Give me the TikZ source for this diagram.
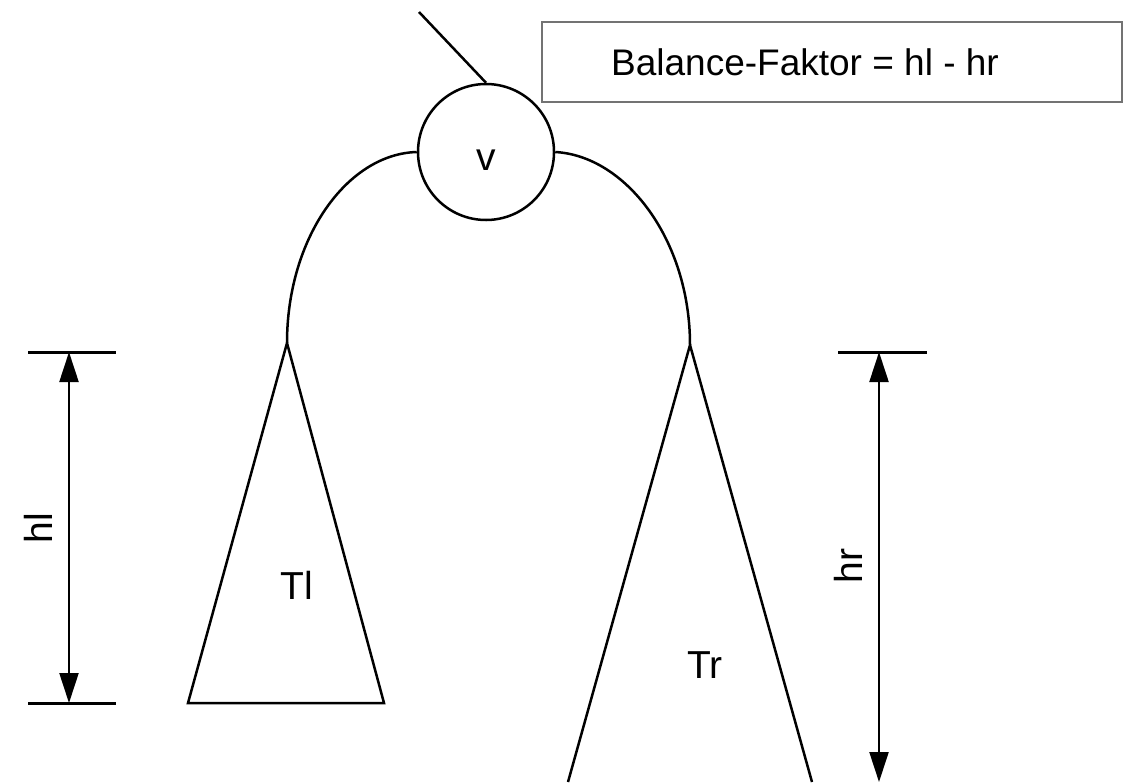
\documentclass[tikz,border=0pt]{standalone}
\usepackage{fontspec}
\setmainfont{Liberation Sans}
\usetikzlibrary{arrows.meta,positioning}

\begin{document}
\begin{tikzpicture}[
	x=0.5pt, y=-0.5pt,
	>={Triangle[length=15pt,width=9.5pt]},
	line width=1.25pt,
	knot/.style={
		circle, draw, line width=1.25pt, minimum size=68pt, inner sep=0pt
	},
	lbl/.style={font=\fontsize{19.5}{22}\selectfont, inner sep=0pt},
	infobox/.style={
		draw=black!55, line width=0.6pt, minimum width=290pt, minimum height=40pt
	},
	tick/.style={line width=1.5pt}
	]
	\useasboundingbox (0,0) rectangle (1123,782);

	% node v and the box
	\node[knot] (v) at (486,152) {};
	\node[lbl] (vlabel) at (486,160) {v};
	\node[infobox] (bf) at (832,62) {};
	\node[lbl,font=\fontsize{18.5}{22}\selectfont] (bftext) at (805,62) {Balance-Faktor = hl - hr};
	\coordinate (up) at (419,12);
	\draw (up) -- (v.north);

	% subtrees
	\coordinate (tltop) at (287,343);
	\coordinate (tlbl) at (188,703);
	\coordinate (tlbr) at (384,703);
	\coordinate (trtop) at (690,345);
	\coordinate (trbl) at (568,782);
	\coordinate (trbr) at (812,782);
	\draw (tlbl) -- (tltop) -- (tlbr) -- cycle;
	\draw (trbl) -- (trtop) -- (trbr);
	\node[lbl] (tl) at (297,585) {Tl};
	\node[lbl] (tr) at (705,665) {Tr};

	\draw (v.west) .. controls (347,154) and (287,238) .. (tltop);
	\draw (v.east) .. controls (626,156) and (690,240) .. (trtop);

	% heights
	\coordinate (hltop) at (69,352);
	\coordinate (hlbot) at (69,703);
	\draw[tick] (28,352) -- (116,352);
	\draw[tick] (28,703) -- (116,703);
	\draw[<->,line width=1.1pt] (hltop) -- (hlbot);
	\node[lbl,rotate=90] (hl) at (38,528) {hl};

	\coordinate (hrtop) at (879,352);
	\coordinate (hrbot) at (879,782);
	\draw[tick] (838,352) -- (927,352);
	\draw[<->,line width=1.1pt] (hrtop) -- (hrbot);
	\node[lbl,rotate=90] (hr) at (848,566) {hr};
\end{tikzpicture}
\end{document}
